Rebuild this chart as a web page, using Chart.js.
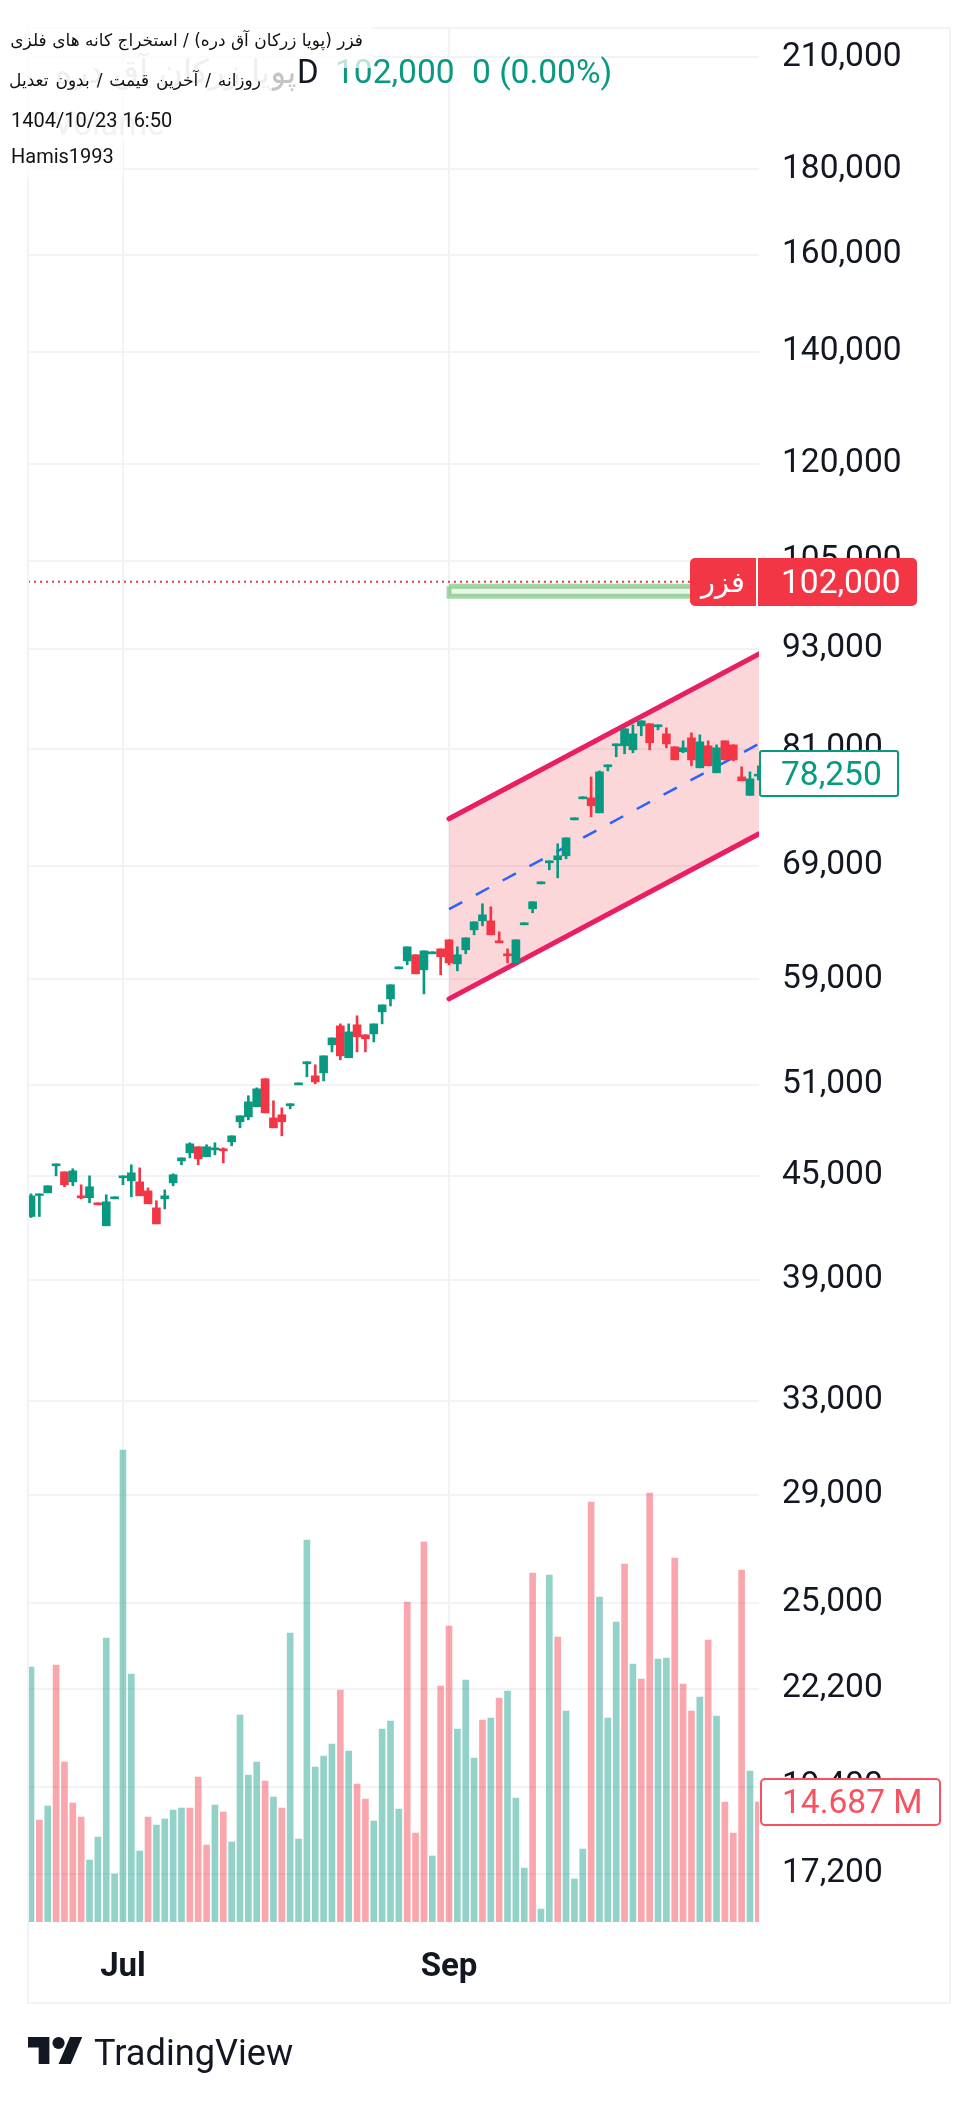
<!DOCTYPE html>
<html lang="fa">
<head>
<meta charset="utf-8">
<title>فزر</title>
<script src="https://cdn.jsdelivr.net/npm/chart.js@4/dist/chart.umd.min.js"></script>
<style>
html,body{margin:0;padding:0;background:#fff;width:978px;height:2101px;overflow:hidden;font-family:Roboto,"DejaVu Sans",sans-serif;color:#131722}
canvas{position:absolute;left:0;top:0;display:block}
.abs{position:absolute;white-space:nowrap}
#frame{left:27px;top:27px;width:920px;height:1973px;border:2px solid #f0f3fa;box-sizing:content-box}
.box{position:absolute;background:rgba(255,255,255,.72)}
.line{position:absolute;left:11px;font-size:20px;color:#111;line-height:30px;white-space:nowrap}
.tag{position:absolute;box-sizing:border-box;font-size:33.5px;line-height:44px;white-space:nowrap}
</style>
</head>
<body>
<canvas id="c" width="978" height="2101"></canvas>
<div class="abs" id="frame"></div>

<div class="abs" style="left:55px;top:50px;font-size:33px;line-height:44px;color:#c4c4c4;font-family:'DejaVu Sans',Roboto">پویا زرکان آق دره</div>
<div class="abs" style="left:53px;top:102px;font-size:33px;line-height:44px;color:#cfcfcf">Volume</div>
<div class="abs" id="val1" style="left:335px;top:50px;font-size:33.5px;line-height:44px;color:#089981">102,000</div>

<div class="box" style="left:0;top:27px;width:373px;height:41px"></div>
<div class="box" style="left:0;top:68px;width:272px;height:36px"></div>
<div class="box" style="left:0;top:104px;width:182px;height:36px"></div>
<div class="box" style="left:0;top:140px;width:123px;height:37px"></div>

<div class="abs" style="left:297px;top:50px;font-size:33px;line-height:44px;color:#131722">D</div>
<div class="abs" style="left:472px;top:50px;font-size:33.5px;line-height:44px;color:#089981">0 (0.00%)</div>

<div class="line" dir="rtl" style="top:25px;width:352px;text-align:right;font-family:'DejaVu Sans',Roboto;font-size:17px">فزر (پویا زرکان آق دره) / استخراج کانه های فلزی</div>
<div class="line" dir="rtl" style="top:65px;width:250px;text-align:right;font-family:'DejaVu Sans',Roboto;font-size:17px;word-spacing:1.5px">روزانه / آخرین قیمت / بدون تعدیل</div>
<div class="line" style="top:105px">1404/10/23 16:50</div>
<div class="line" style="top:141px">Hamis1993</div>

<div class="tag" style="left:690px;top:558px;width:227px;height:48px;background:#f23645;border-radius:5px"></div>
<div class="tag" style="left:756px;top:558px;width:2px;height:48px;background:#fff"></div>
<div class="tag" style="left:690px;top:560px;width:66px;text-align:center;color:#fff;font-family:'DejaVu Sans',Roboto;font-size:29px">فزر</div>
<div class="tag" style="left:781px;top:560px;color:#fff">102,000</div>

<div class="tag" style="left:759px;top:750px;width:140px;height:47px;background:#fff;border:2.5px solid #089981;border-radius:3px"></div>
<div class="tag" style="left:781px;top:752px;color:#089981">78,250</div>

<div class="tag" style="left:760px;top:1778px;width:181px;height:48px;background:#fff;border:2.5px solid #f7525f;border-radius:5px"></div>
<div class="tag" style="left:782px;top:1780px;color:#f7525f">14.687 M</div>

<svg class="abs" style="left:28px;top:2037px" width="55" height="27" viewBox="0 4 36 18" preserveAspectRatio="none">
<path fill="#131722" d="M14 22H7V11H0V4h14v18zM28 22h-8l7.5-18h8L28 22z"/><circle fill="#131722" cx="20" cy="8" r="4"/>
</svg>
<div class="abs" style="left:94px;top:2030px;font-size:36.2px;line-height:46px;color:#131722">TradingView</div>

<script>
const open = [
42550,43800,43960,45630,45250,44630,43780,43660,43360,42010,
43600,44880,44690,44630,44080,43060,43600,44570,45940,46450,
46840,46200,46640,46710,47160,48480,48810,49490,51440,48740,
48950,49560,51010,52510,51650,51860,53900,55330,52950,55410,
54650,54720,56410,57420,59850,60510,61020,59770,61100,61520,
62290,60260,61440,63150,63940,63940,62200,61100,60340,63590,
65010,67280,69260,69550,69930,73480,75640,75740,74190,79050,
81370,81370,80920,83640,83880,83530,82720,81260,80700,82270,
78940,81370,78400,81930,81480,77960,76000,78050];
const close = [
43780,43900,44390,45750,44450,45310,43660,44330,43240,43420,
43720,45000,45190,43780,43300,42120,43780,45070,46130,47030,
46070,46840,46770,46580,47550,48880,49830,50730,49080,48080,
48480,49700,51150,52660,51220,53090,54420,53090,54870,54500,
54350,55480,56950,58550,60010,61690,59440,61350,61270,60850,
60340,61020,62460,63850,64470,62720,62030,60930,62290,63770,
65640,67470,69450,69930,71680,73690,75850,74920,78500,79270,
81590,83300,82720,84220,81710,83760,81590,79810,81150,79810,
81820,79160,81150,79810,79810,77540,77750,78250];
const high = [
43900,43900,44390,45750,45250,45440,44450,45000,43360,43840,
43720,45000,45690,45500,44260,43480,44140,45130,46130,47100,
46840,46970,47100,46770,47550,48880,50250,50800,51440,49900,
49420,49700,51150,52660,52440,53090,54420,55480,55480,56100,
54650,55480,56950,58550,60010,61690,61020,61350,61270,61520,
62290,61690,62460,63850,65460,65190,62980,61520,62290,63770,
65640,67470,69450,71100,71680,73690,75850,77960,78610,79270,
81590,83300,83760,84220,83880,83760,83410,81260,81930,82840,
82610,81930,81480,81930,81480,79050,78500,79160];
const low = [
42490,42550,43960,45000,44330,44390,43600,43360,43240,42010,
43600,44450,43720,43780,43300,42120,43000,44390,45690,46130,
45690,46200,46320,45810,46900,48080,48610,49490,49080,48080,
47550,49350,51010,51580,51080,51290,53380,52800,52950,53380,
53380,54120,55480,56870,59850,60180,59440,57820,61100,59360,
60180,59680,61100,62720,63500,62720,62030,60340,60340,63590,
64650,67280,68590,67840,69640,73480,75640,73790,74190,78610,
80150,80480,80590,82500,80920,83180,81150,79810,80590,79160,
78940,79160,78400,79810,79700,77540,76000,77640];
const volumeM = [
31.25,12.47,14.19,31.49,19.59,14.56,12.84,7.57,10.39,34.81,
5.85,57.87,30.39,8.67,12.84,11.86,12.60,13.70,13.95,13.95,
17.75,9.41,14.32,13.46,9.78,25.36,18.00,19.59,17.26,15.30,
13.95,35.42,10.14,46.83,18.98,20.33,21.80,28.43,20.94,16.89,
15.05,12.35,23.64,24.62,13.82,39.22,10.88,46.59,8.06,28.92,
36.28,23.64,29.65,20.08,24.74,24.99,27.44,28.30,15.17,6.58,
42.78,1.55,42.54,34.93,25.85,5.24,8.92,51.49,39.84,24.99,
36.77,43.89,31.62,29.78,52.60,32.23,32.35,44.62,29.16,25.85,
27.57,34.56,25.24,14.68,10.88,43.15,18.49,14.687];
const volumeUp = [
1,0,1,0,0,0,0,1,1,1,
1,1,1,1,0,1,1,1,1,0,
0,0,1,0,1,1,1,1,0,1,
0,1,1,1,1,1,1,0,1,0,
0,1,1,1,1,0,0,0,1,0,
0,1,1,1,0,1,0,1,1,1,
0,1,1,0,1,1,1,0,1,1,
1,0,1,0,0,1,1,0,0,0,
1,0,1,0,0,0,1,0];
const priceTicks = [210000,180000,160000,140000,120000,105000,93000,81000,69000,59000,51000,45000,39000,33000,29000,25000,22200,19400,17200];
const timeTickIndex = [11,50];
const timeTickLabels = ["Jul","Sep"];
const channelIndex = [50,87.08];
const channelUpper = [73585,92360];
const channelMiddle = [64980,81593];
const channelLower = [57425,72080];
const boxTop = 101360;
const boxBottom = 99970;
const lastPrice = 102000;

const GREEN = '#089981', RED = '#f23645';
const idx = open.map((_, i) => i);
const colors = idx.map(i => close[i] >= open[i] ? GREEN : RED);
const XMIN = -0.36, XMAX = 87.08;
const seg = (xs, ys) => xs.map((x, i) => ({x, y: ys[i]}));

new Chart(document.getElementById('c'), {
  data: {
    datasets: [
      {type:'bar', label:'Volume', yAxisID:'yv', order:20, grouped:false, barPercentage:1, categoryPercentage:1, maxBarThickness:6,
       data: idx.map(i => ({x:i, y:volumeM[i]})),
       backgroundColor: idx.map(i => volumeUp[i] ? 'rgba(8,153,129,.44)' : 'rgba(242,54,69,.44)')},
      {type:'line', label:'Upper', yAxisID:'y', order:12, data:seg(channelIndex, channelUpper), borderColor:'#e91e63', borderWidth:5, borderCapStyle:'round', pointRadius:0,
       fill:{target:'+1', above:'rgba(242,54,69,.2)', below:'rgba(242,54,69,.2)'}, backgroundColor:'rgba(242,54,69,.2)'},
      {type:'line', label:'Lower', yAxisID:'y', order:11, data:seg(channelIndex, channelLower), borderColor:'#e91e63', borderWidth:5, borderCapStyle:'round', pointRadius:0, fill:false},
      {type:'line', label:'Middle', yAxisID:'y', order:10, data:seg(channelIndex, channelMiddle), borderColor:'#2962ff', borderWidth:2.5, borderDash:[15,15.4], pointRadius:0, fill:false},
      {type:'line', label:'Box', yAxisID:'y', order:9,
       data:seg([channelIndex[0],XMAX,XMAX,channelIndex[0],channelIndex[0]],[boxTop,boxTop,boxBottom,boxBottom,boxTop]),
       borderColor:'rgba(76,175,80,.5)', borderWidth:5, pointRadius:0, fill:'shape', backgroundColor:'rgba(76,175,80,.13)'},
      {type:'line', label:'Last', yAxisID:'y', order:8, data:seg([XMIN,XMAX],[lastPrice,lastPrice]), borderColor:RED, borderWidth:2, borderDash:[2,4], pointRadius:0, fill:false},
      {type:'bar', label:'Wick', yAxisID:'y', order:2, grouped:false, barPercentage:1, categoryPercentage:1, maxBarThickness:2,
       data: idx.map(i => ({x:i, y:[low[i], high[i]]})), backgroundColor: colors},
      {type:'bar', label:'Body', yAxisID:'y', order:1, grouped:false, barPercentage:1, categoryPercentage:1, maxBarThickness:8,
       data: idx.map(i => ({x:i, y:[Math.min(open[i],close[i]), Math.max(open[i],close[i])]})), backgroundColor: colors}
    ]
  },
  options: {
    responsive:false, animation:false, devicePixelRatio:1,
    layout:{padding:{left:28, top:28, right:28, bottom:98}},
    plugins:{legend:{display:false}, tooltip:{enabled:false}},
    elements:{line:{tension:0}},
    scales:{
      x:{type:'linear', min:XMIN, max:XMAX, offset:false, bounds:'data',
         afterBuildTicks:s => { s.ticks = timeTickIndex.map(value => ({value})); },
         afterFit:s => { s.height = 80; s.paddingLeft = 0; s.paddingRight = 0; },
         grid:{color:'#f2f3f6', lineWidth:2, drawTicks:false, offset:false}, border:{display:false},
         ticks:{autoSkip:false, maxRotation:0, padding:25, color:'#131722',
                font:{family:'Roboto', size:33, weight:'bold'},
                callback:v => timeTickLabels[timeTickIndex.indexOf(v)] ?? ''}},
      y:{type:'logarithmic', position:'right', min:16080, max:218700, bounds:'data',
         afterBuildTicks:s => { s.ticks = priceTicks.map(value => ({value})); },
         afterFit:s => { s.width = 191; s.paddingTop = 0; s.paddingBottom = 0; },
         grid:{color:'#f2f3f6', lineWidth:2, drawTicks:false}, border:{display:false},
         ticks:{autoSkip:false, padding:23, crossAlign:'near', color:'#131722',
                font:{family:'Roboto', size:33.5},
                callback:v => Number(v).toLocaleString('en-US')}},
      yv:{type:'linear', display:false, min:-0.16, max:232.4, bounds:'data', grid:{display:false}}
    }
  }
});
</script>
</body>
</html>
